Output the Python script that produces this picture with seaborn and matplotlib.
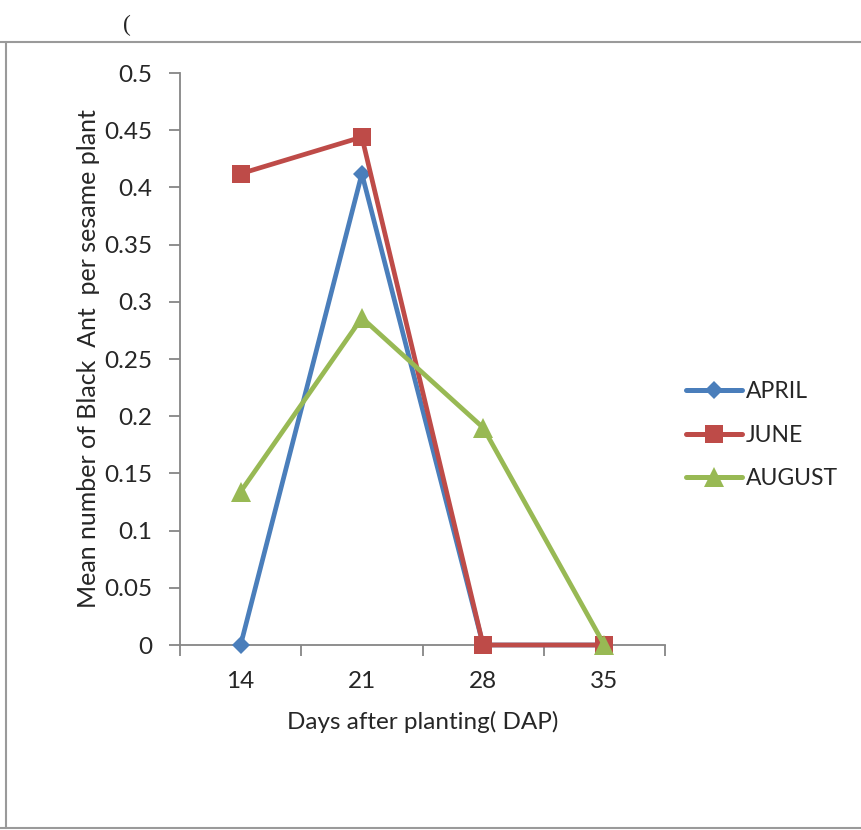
import matplotlib
matplotlib.use("Agg")
import matplotlib.pyplot as plt
import seaborn as sns
import pandas as pd
from matplotlib.lines import Line2D

days = ["14", "21", "28", "35"]
april = [0.0, 0.412, 0.0, 0.0]
june = [0.412, 0.444, 0.0, 0.0]
august = [0.134, 0.286, 0.19, 0.0]
series_names = ["APRIL", "JUNE", "AUGUST"]
y_ticks = [0, 0.05, 0.1, 0.15, 0.2, 0.25, 0.3, 0.35, 0.4, 0.45, 0.5]
y_tick_labels = ["0", "0.05", "0.1", "0.15", "0.2", "0.25", "0.3", "0.35", "0.4", "0.45", "0.5"]

colors = ["#4A7EBB", "#BE4B48", "#98B954"]
markers = ["D", "s", "^"]
msizes = [9.5, 13.5, 14.5]

sns.set_style("white")
plt.rcParams["font.family"] = ["Lato", "DejaVu Sans"]

fig = plt.figure(figsize=(8.61, 8.30), dpi=100)
ax = fig.add_axes([180/861, 1-645/830, 485/861, 572/830])

for name, vals, c, m, ms in zip(series_names, [april, june, august], colors, markers, msizes):
    df = pd.DataFrame({"day": days, "value": vals})
    sns.lineplot(data=df, x="day", y="value", ax=ax, color=c, marker=m,
                 markersize=ms, markeredgewidth=0, linewidth=3.4, label=name,
                 sort=False, legend=False, clip_on=False)

ax.set_xlim(-0.5, 3.5)
ax.set_ylim(0, 0.5)
ax.set_yticks(y_ticks)
ax.set_yticklabels(y_tick_labels)
ax.set_xticks(range(len(days)))
ax.set_xticklabels(days)
ax.set_xticks([-0.5, 0.5, 1.5, 2.5, 3.5], minor=True)

for s in ["top", "right"]:
    ax.spines[s].set_visible(False)
for s in ["left", "bottom"]:
    ax.spines[s].set_color("#868686")
    ax.spines[s].set_linewidth(1.3)
    ax.spines[s].set_zorder(0.5)

ax.tick_params(axis="y", which="major", length=8, width=1.3, color="#868686",
               pad=12, labelsize=17.5, left=True)
ax.tick_params(axis="x", which="major", length=0, pad=19, labelsize=17.5)
ax.tick_params(axis="x", which="minor", length=8, width=1.3, color="#868686", bottom=True)

ax.set_xlabel("Days after planting( DAP)", fontsize=17.5, labelpad=13)
ax.set_ylabel("Mean number of Black  Ant  per sesame plant", fontsize=18, labelpad=3)

handles = [Line2D([], [], color=c, marker=m, markersize=ms, markeredgewidth=0,
                  linewidth=3.6, solid_capstyle="round")
           for c, m, ms in zip(colors, markers, msizes)]
ax.legend(handles, series_names, loc="center left", bbox_to_anchor=(1.043, 0.367),
          frameon=False, fontsize=16.5, handlelength=2.45, handletextpad=0.17,
          labelspacing=1.0, borderpad=0, borderaxespad=0)

# page frame lines
fig.add_artist(Line2D([0, 1], [1-42.5/830, 1-42.5/830], color="#9a9a9a", linewidth=1.5))
fig.add_artist(Line2D([0, 1], [1-827.5/830, 1-827.5/830], color="#9a9a9a", linewidth=1.5))
fig.add_artist(Line2D([6/861, 6/861], [1-42.5/830, 1-827.5/830], color="#9a9a9a", linewidth=1.5))
fig.text(127/861, 1-25/830, "(", fontsize=17, family="Liberation Serif", ha="center", va="center")

fig.savefig("out.png", dpi=100)
